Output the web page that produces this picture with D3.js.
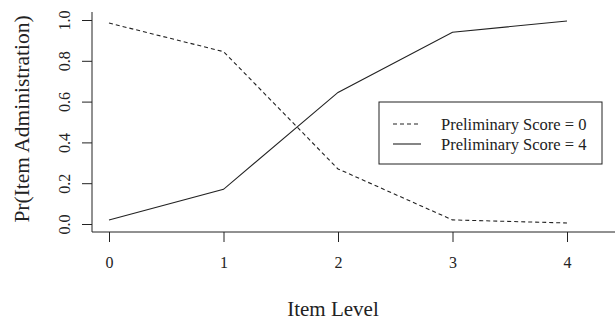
<!DOCTYPE html>
<html lang="en">
<head>
  <meta charset="UTF-8">
  <title>Item administration</title>
  <script src="https://d3js.org/d3.v7.min.js"></script>
  <style>
    body { margin: 0; background: #fff; }
    svg, svg text { font-family: "Liberation Serif", "DejaVu Serif", serif; }
    .axis path, .axis line { stroke: #222; stroke-width: 1px; }
    .axis text { font-size: 16px; fill: #222; font-family: "Liberation Serif", serif; }
    .curve { fill: none; stroke: #222; stroke-width: 1.1px; }
  </style>
</head>
<body>
<svg id="chart" width="615" height="320"></svg>
<script>
  // item levels and probabilities
  const levels = [0, 1, 2, 3, 4];
  const score0 = [0.985, 0.845, 0.27, 0.02, 0.005];
  const score4 = [0.02, 0.17, 0.645, 0.94, 0.995];
  const yTicks = [0, 0.2, 0.4, 0.6, 0.8, 1.0];
  const seriesNames = ["Preliminary Score = 0", "Preliminary Score = 4"];

  const svg = d3.select("#chart");

  const x = d3.scaleLinear().domain([0, 4]).range([109, 567]);
  const y = d3.scaleLinear().domain([0, 1]).range([224, 20]);

  // L-shaped frame: left and bottom axis lines
  svg.append("line").attr("x1", 92).attr("x2", 92).attr("y1", 12).attr("y2", 232)
     .attr("stroke", "#222");
  svg.append("line").attr("x1", 92).attr("x2", 615).attr("y1", 232).attr("y2", 232)
     .attr("stroke", "#222");

  const xAxis = svg.append("g").attr("class", "axis")
    .attr("transform", "translate(0,232)")
    .call(d3.axisBottom(x).tickValues(levels).tickSize(10).tickPadding(15).tickFormat(d3.format("d")));
  xAxis.select(".domain").remove();

  const yAxis = svg.append("g").attr("class", "axis")
    .attr("transform", "translate(92,0)")
    .call(d3.axisLeft(y).tickValues(yTicks).tickSize(10).tickFormat(d3.format(".1f")));
  yAxis.select(".domain").remove();
  // R draws the y labels turned on their side
  yAxis.selectAll(".tick text")
    .attr("x", 0).attr("y", 0)
    .attr("transform", "translate(-28,0) rotate(-90)")
    .attr("dy", "0.35em")
    .style("text-anchor", "middle");

  const line = d3.line().x((d, i) => x(levels[i])).y(d => y(d));

  svg.append("path").datum(score0).attr("class", "curve")
     .attr("stroke-dasharray", "4,3").attr("d", line);
  svg.append("path").datum(score4).attr("class", "curve").attr("d", line);

  // axis titles
  svg.append("text").attr("x", 333).attr("y", 316)
     .attr("text-anchor", "middle").attr("font-size", 21).attr("fill", "#222")
     .text("Item Level");
  svg.append("text").attr("transform", "translate(29,119) rotate(-90)")
     .attr("text-anchor", "middle").attr("font-size", 21.5).attr("fill", "#222")
     .text("Pr(Item Administration)");

  // legend
  const legend = svg.append("g");
  legend.append("rect").attr("x", 379).attr("y", 102).attr("width", 223).attr("height", 62)
     .attr("fill", "#fff").attr("stroke", "#222");
  seriesNames.forEach((name, i) => {
    const ly = 124 + i * 20;
    legend.append("line").attr("x1", 393).attr("x2", 421).attr("y1", ly).attr("y2", ly)
      .attr("stroke", "#222").attr("stroke-width", 1.1)
      .attr("stroke-dasharray", i === 0 ? "4,3" : null);
    legend.append("text").attr("x", 441).attr("y", ly).attr("dy", "0.35em")
      .attr("font-size", 16.5).attr("fill", "#222").text(name);
  });
</script>
</body>
</html>
